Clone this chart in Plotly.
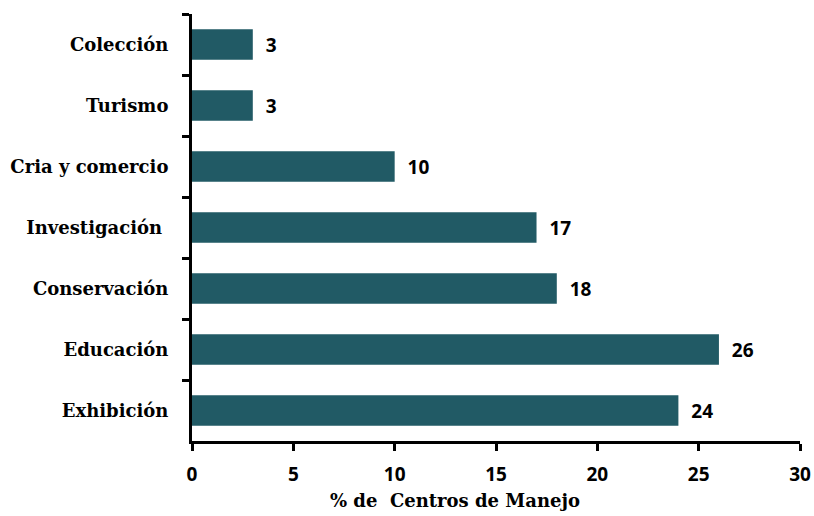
import plotly.graph_objects as go

categories = ["Colección", "Turismo", "Cria y comercio", "Investigación ", "Conservación", "Educación", "Exhibición"]
values = [3, 3, 10, 17, 18, 26, 24]
x_ticks = [0, 5, 10, 15, 20, 25, 30]

bar_color = "#215A65"

fig = go.Figure(go.Bar(
    x=values,
    y=categories,
    orientation="h",
    marker=dict(color=bar_color, line=dict(width=0)),
    width=0.5,
    texttemplate="\u00a0\u00a0%{x}",
    textposition="outside",
    cliponaxis=False,
    textfont=dict(family="Open Sans", size=19, color="black", weight="bold"),
))

fig.update_layout(
    width=814, height=516,
    margin=dict(l=192, r=14, t=14, b=75),
    plot_bgcolor="white", paper_bgcolor="white",
    showlegend=False,
    xaxis=dict(
        range=[0, 30], tickvals=x_ticks, showgrid=False, zeroline=False,
        showline=True, linecolor="black", linewidth=3, automargin=False,
        ticks="outside", ticklen=7, tickwidth=3, tickcolor="black",
        ticklabelstandoff=7,
        tickfont=dict(family="Open Sans", size=19, color="black", weight="bold"),
    ),
    yaxis=dict(
        type="category", autorange="reversed", showgrid=False, zeroline=False,
        showline=True, linecolor="black", linewidth=3, automargin=False,
        ticks="outside", ticklen=7, tickwidth=3, tickcolor="black",
        tickson="boundaries", ticklabelstandoff=17,
        tickfont=dict(family="DejaVu Serif", size=18, color="black", weight="bold"),
    ),
    annotations=[dict(
        text="% de  Centros de Manejo", xref="paper", yref="paper",
        x=(455 - 192) / 608, y=0, yshift=-59, xanchor="center", yanchor="middle",
        showarrow=False,
        font=dict(family="DejaVu Serif", size=18, color="black", weight="bold"),
    )],
)

fig.write_html(
    "out.html",
    config={"displayModeBar": False},
    post_script="document.body.style.margin='0';document.body.style.overflow='hidden';",
)
